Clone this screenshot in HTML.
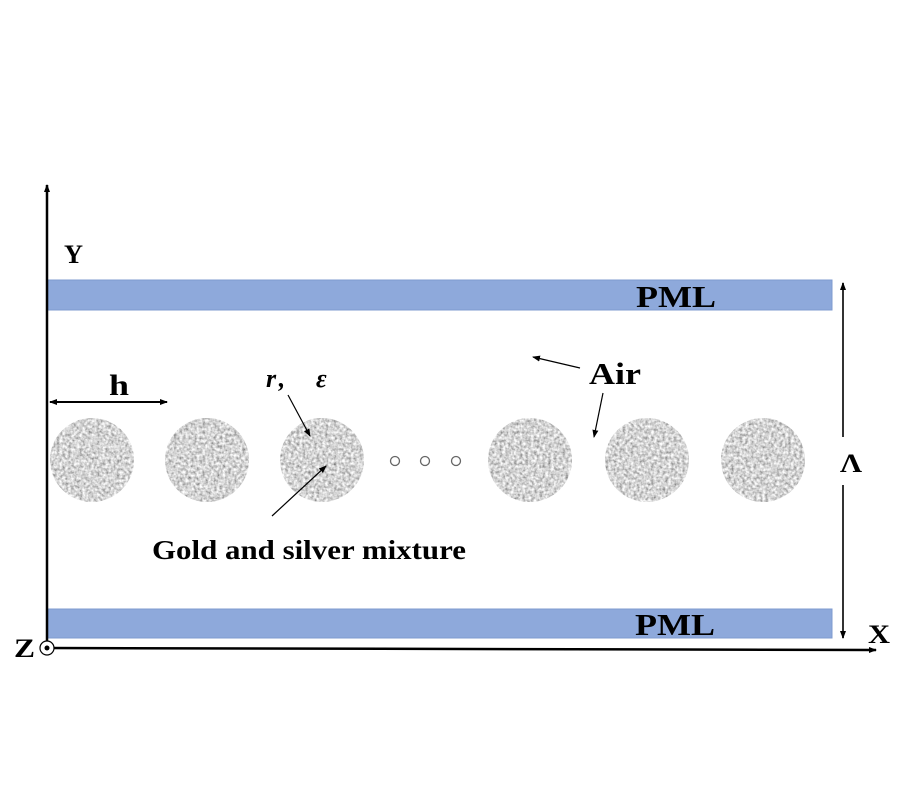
<!DOCTYPE html>
<html><head><style>html,body{margin:0;padding:0;background:#fff}svg{display:block}</style></head>
<body>
<svg width="900" height="800" viewBox="0 0 900 800" xmlns="http://www.w3.org/2000/svg" font-family="Liberation Serif, serif">
<defs>
<filter id="n" x="0" y="0" width="100%" height="100%">
<feTurbulence type="fractalNoise" baseFrequency="0.35" numOctaves="2" seed="3" result="t"/>
<feColorMatrix in="t" type="matrix" values="1.2 0 0 0 0.06  1.2 0 0 0 0.06  1.2 0 0 0 0.06  0 0 0 0 1" result="c"/>
<feComposite in="c" in2="SourceGraphic" operator="in"/>
</filter>
<marker id="a" markerWidth="8" markerHeight="8" refX="7" refY="4" orient="auto" markerUnits="userSpaceOnUse"><path d="M0,1 L8,4 L0,7 Z" fill="#000"/></marker>
</defs>
<rect x="48" y="280" width="784" height="30" fill="#8ea9db" stroke="#7f9bcf"/>
<rect x="48" y="609" width="784" height="29" fill="#8ea9db" stroke="#7f9bcf"/>
<text x="636" y="307" font-size="31" font-weight="bold" textLength="80" lengthAdjust="spacingAndGlyphs">PML</text>
<text x="635" y="635" font-size="31" font-weight="bold" textLength="80" lengthAdjust="spacingAndGlyphs">PML</text>
<line x1="47" y1="648" x2="47" y2="185" stroke="#000" stroke-width="2.5" marker-end="url(#a)"/>
<line x1="47" y1="648" x2="876" y2="650" stroke="#000" stroke-width="2.5" marker-end="url(#a)"/>
<text x="64" y="263" font-size="26" font-weight="bold" textLength="19" lengthAdjust="spacingAndGlyphs">Y</text>
<text x="868" y="643" font-size="26" font-weight="bold" textLength="22" lengthAdjust="spacingAndGlyphs">X</text>
<text x="14" y="657" font-size="26" font-weight="bold" textLength="21" lengthAdjust="spacingAndGlyphs">Z</text>
<circle cx="47" cy="648" r="7" fill="#fff" stroke="#000" stroke-width="1.2"/>
<circle cx="47" cy="648" r="2.5" fill="#000"/>
<g fill="#a9a9a9" filter="url(#n)">
<circle cx="92" cy="460" r="42"/><circle cx="207" cy="460" r="42"/><circle cx="322" cy="460" r="42"/>
<circle cx="530" cy="460" r="42"/><circle cx="647" cy="460" r="42"/><circle cx="763" cy="460" r="42"/>
</g>
<g fill="none" stroke="#666" stroke-width="1.3"><circle cx="395" cy="461" r="4.5"/><circle cx="425" cy="461" r="4.5"/><circle cx="456" cy="461" r="4.5"/></g>
<line x1="60" y1="402" x2="50" y2="402" stroke="#000" stroke-width="2" marker-end="url(#a)"/>
<line x1="52" y1="402" x2="167" y2="402" stroke="#000" stroke-width="2" marker-end="url(#a)"/>
<text x="109" y="395" font-size="30" font-weight="bold" textLength="20" lengthAdjust="spacingAndGlyphs">h</text>
<text x="266" y="387" font-size="26" font-weight="bold" font-style="italic">r<tspan dx="4">,</tspan></text>
<text x="316" y="387" font-size="26" font-style="italic" font-weight="bold">ε</text>
<line x1="288" y1="395" x2="310" y2="436" stroke="#000" stroke-width="1.2" marker-end="url(#a)"/>
<line x1="272" y1="516" x2="326" y2="466" stroke="#000" stroke-width="1.2" marker-end="url(#a)"/>
<text x="152" y="559" font-size="27" font-weight="bold" textLength="314" lengthAdjust="spacingAndGlyphs">Gold and silver mixture</text>
<text x="589" y="384" font-size="31" font-weight="bold" textLength="52" lengthAdjust="spacingAndGlyphs">Air</text>
<line x1="580" y1="368" x2="533" y2="357" stroke="#000" stroke-width="1.2" marker-end="url(#a)"/>
<line x1="603" y1="393" x2="594" y2="437" stroke="#000" stroke-width="1.2" marker-end="url(#a)"/>
<line x1="843" y1="437" x2="843" y2="283" stroke="#333" stroke-width="2" marker-end="url(#a)"/>
<line x1="843" y1="485" x2="843" y2="638" stroke="#333" stroke-width="2" marker-end="url(#a)"/>
<text x="840" y="472" font-size="26" font-weight="bold" textLength="22" lengthAdjust="spacingAndGlyphs">Λ</text>
</svg>
</body></html>
